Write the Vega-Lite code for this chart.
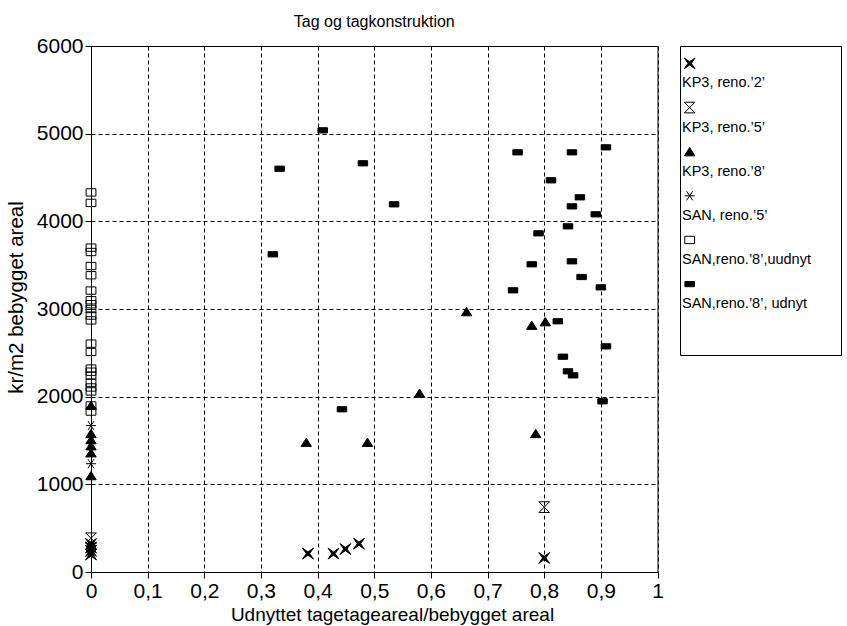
{
  "$schema": "https://vega.github.io/schema/vega-lite/v6.json",
  "autosize": {"type": "pad"},
  "padding": {"left": 5, "top": 13, "right": 0, "bottom": 0},
  "background": "white",
  "bounds": "flush",
  "spacing": 22,
  "config": {
    "font": "Liberation Sans",
    "view": {"stroke": "black", "strokeWidth": 1},
    "axis": {
      "domainColor": "black", "tickColor": "black", "gridColor": "black", "gridOpacity": 1,
      "gridDash": [4, 3], "labelColor": "black", "titleColor": "black",
      "labelFont": "Liberation Sans", "titleFont": "Liberation Sans",
      "labelFontSize": 21, "titleFontSize": 19, "titleFontWeight": "normal",
      "tickSize": 6, "labelPadding": 2
    },
    "text": {"font": "Liberation Sans"}
  },
  "hconcat": [
    {
      "width": 566.5,
      "height": 526,
      "title": {"text": "Tag og tagkonstruktion", "fontSize": 16, "fontWeight": "normal", "offset": 5, "font": "Liberation Sans", "color": "black"},
      "data": {"values": [
        {"series": "KP3, reno.’2’", "x": 0, "y": 320},
        {"series": "KP3, reno.’2’", "x": 0, "y": 280},
        {"series": "KP3, reno.’2’", "x": 0, "y": 240},
        {"series": "KP3, reno.’2’", "x": 0, "y": 200},
        {"series": "KP3, reno.’2’", "x": 0.383, "y": 210},
        {"series": "KP3, reno.’2’", "x": 0.428, "y": 210},
        {"series": "KP3, reno.’2’", "x": 0.449, "y": 262},
        {"series": "KP3, reno.’2’", "x": 0.473, "y": 323},
        {"series": "KP3, reno.’2’", "x": 0.8, "y": 160},
        {"series": "KP3, reno.’5’", "x": 0, "y": 385},
        {"series": "KP3, reno.’5’", "x": 0.8, "y": 740},
        {"series": "KP3, reno.’8’", "x": 0, "y": 1900},
        {"series": "KP3, reno.’8’", "x": 0, "y": 1580},
        {"series": "KP3, reno.’8’", "x": 0, "y": 1510},
        {"series": "KP3, reno.’8’", "x": 0, "y": 1440},
        {"series": "KP3, reno.’8’", "x": 0, "y": 1360},
        {"series": "KP3, reno.’8’", "x": 0, "y": 1100},
        {"series": "KP3, reno.’8’", "x": 0.38, "y": 1480},
        {"series": "KP3, reno.’8’", "x": 0.488, "y": 1480},
        {"series": "KP3, reno.’8’", "x": 0.58, "y": 2040},
        {"series": "KP3, reno.’8’", "x": 0.663, "y": 2970},
        {"series": "KP3, reno.’8’", "x": 0.778, "y": 2815},
        {"series": "KP3, reno.’8’", "x": 0.802, "y": 2855},
        {"series": "KP3, reno.’8’", "x": 0.785, "y": 1580},
        {"series": "SAN, reno.’5’", "x": 0, "y": 1670},
        {"series": "SAN, reno.’5’", "x": 0, "y": 1235},
        {"series": "SAN, reno.’5’", "x": 0, "y": 300},
        {"series": "SAN,reno.’8’,uudnyt", "x": 0, "y": 4330},
        {"series": "SAN,reno.’8’,uudnyt", "x": 0, "y": 4210},
        {"series": "SAN,reno.’8’,uudnyt", "x": 0, "y": 3700},
        {"series": "SAN,reno.’8’,uudnyt", "x": 0, "y": 3650},
        {"series": "SAN,reno.’8’,uudnyt", "x": 0, "y": 3490},
        {"series": "SAN,reno.’8’,uudnyt", "x": 0, "y": 3385},
        {"series": "SAN,reno.’8’,uudnyt", "x": 0, "y": 3210},
        {"series": "SAN,reno.’8’,uudnyt", "x": 0, "y": 3100},
        {"series": "SAN,reno.’8’,uudnyt", "x": 0, "y": 3055},
        {"series": "SAN,reno.’8’,uudnyt", "x": 0, "y": 3000},
        {"series": "SAN,reno.’8’,uudnyt", "x": 0, "y": 2925},
        {"series": "SAN,reno.’8’,uudnyt", "x": 0, "y": 2870},
        {"series": "SAN,reno.’8’,uudnyt", "x": 0, "y": 2605},
        {"series": "SAN,reno.’8’,uudnyt", "x": 0, "y": 2510},
        {"series": "SAN,reno.’8’,uudnyt", "x": 0, "y": 2320},
        {"series": "SAN,reno.’8’,uudnyt", "x": 0, "y": 2285},
        {"series": "SAN,reno.’8’,uudnyt", "x": 0, "y": 2240},
        {"series": "SAN,reno.’8’,uudnyt", "x": 0, "y": 2160},
        {"series": "SAN,reno.’8’,uudnyt", "x": 0, "y": 2105},
        {"series": "SAN,reno.’8’,uudnyt", "x": 0, "y": 2060},
        {"series": "SAN,reno.’8’,uudnyt", "x": 0, "y": 1900},
        {"series": "SAN,reno.’8’,uudnyt", "x": 0, "y": 1830},
        {"series": "SAN,reno.’8’, udnyt", "x": 0.321, "y": 3624},
        {"series": "SAN,reno.’8’, udnyt", "x": 0.333, "y": 4600},
        {"series": "SAN,reno.’8’, udnyt", "x": 0.409, "y": 5038},
        {"series": "SAN,reno.’8’, udnyt", "x": 0.48, "y": 4662},
        {"series": "SAN,reno.’8’, udnyt", "x": 0.535, "y": 4194},
        {"series": "SAN,reno.’8’, udnyt", "x": 0.443, "y": 1856},
        {"series": "SAN,reno.’8’, udnyt", "x": 0.753, "y": 4787},
        {"series": "SAN,reno.’8’, udnyt", "x": 0.812, "y": 4468},
        {"series": "SAN,reno.’8’, udnyt", "x": 0.79, "y": 3863},
        {"series": "SAN,reno.’8’, udnyt", "x": 0.778, "y": 3510},
        {"series": "SAN,reno.’8’, udnyt", "x": 0.745, "y": 3213},
        {"series": "SAN,reno.’8’, udnyt", "x": 0.909, "y": 4844},
        {"series": "SAN,reno.’8’, udnyt", "x": 0.849, "y": 4787},
        {"series": "SAN,reno.’8’, udnyt", "x": 0.863, "y": 4274},
        {"series": "SAN,reno.’8’, udnyt", "x": 0.849, "y": 4171},
        {"series": "SAN,reno.’8’, udnyt", "x": 0.891, "y": 4080},
        {"series": "SAN,reno.’8’, udnyt", "x": 0.842, "y": 3943},
        {"series": "SAN,reno.’8’, udnyt", "x": 0.849, "y": 3544},
        {"series": "SAN,reno.’8’, udnyt", "x": 0.866, "y": 3365},
        {"series": "SAN,reno.’8’, udnyt", "x": 0.9, "y": 3247},
        {"series": "SAN,reno.’8’, udnyt", "x": 0.824, "y": 2860},
        {"series": "SAN,reno.’8’, udnyt", "x": 0.909, "y": 2574},
        {"series": "SAN,reno.’8’, udnyt", "x": 0.833, "y": 2456},
        {"series": "SAN,reno.’8’, udnyt", "x": 0.842, "y": 2289},
        {"series": "SAN,reno.’8’, udnyt", "x": 0.851, "y": 2243},
        {"series": "SAN,reno.’8’, udnyt", "x": 0.903, "y": 1947}
      ]},
      "mark": {"type": "point", "opacity": 1, "strokeWidth": 1, "stroke": "black"},
      "encoding": {
        "x": {"field": "x", "type": "quantitative",
          "scale": {"domain": [0, 1], "nice": false, "zero": false},
          "axis": {"title": "Udnyttet tagetageareal/bebygget areal", "values": [0, 0.1, 0.2, 0.3, 0.4, 0.5, 0.6, 0.7, 0.8, 0.9, 1],
            "labelExpr": "replace(format(datum.value, '.1~f'), '.', ',')", "grid": true, "titlePadding": 4, "titleX": 301, "labelFlush": false}},
        "y": {"field": "y", "type": "quantitative",
          "scale": {"domain": [0, 6000], "nice": false},
          "axis": {"title": "kr/m2 bebygget areal", "values": [0, 1000, 2000, 3000, 4000, 5000, 6000], "format": "d", "grid": true, "titlePadding": 10, "titleFontSize": 20.5, "titleY": 251, "labelFlush": false}},
        "shape": {"field": "series", "type": "nominal", "legend": null,
          "scale": {"domain": ["KP3, reno.’2’", "KP3, reno.’5’", "KP3, reno.’8’", "SAN, reno.’5’", "SAN,reno.’8’,uudnyt", "SAN,reno.’8’, udnyt"],
            "range": ["M-1,-1L0,-0.3L1,-1L0.3,0L1,1L0,0.3L-1,1L-0.3,0Z", "M-1,-1H1L-1,1H1Z", "M0,-0.8L1,0.8H-1Z", "M-1,0H1M-0.6,-0.9L0.6,0.9M-0.6,0.9L0.6,-0.9", "M-1,-0.75H1V0.75H-1Z", "M-1,-0.55H1V0.55H-1Z"]}},
        "fill": {"field": "series", "type": "nominal", "legend": null,
          "scale": {"domain": ["KP3, reno.’2’", "KP3, reno.’5’", "KP3, reno.’8’", "SAN, reno.’5’", "SAN,reno.’8’,uudnyt", "SAN,reno.’8’, udnyt"],
            "range": ["black", "transparent", "black", "transparent", "transparent", "black"]}},
        "size": {"field": "series", "type": "nominal", "legend": null,
          "scale": {"domain": ["KP3, reno.’2’", "KP3, reno.’5’", "KP3, reno.’8’", "SAN, reno.’5’", "SAN,reno.’8’,uudnyt", "SAN,reno.’8’, udnyt"],
            "range": [120, 90, 100, 100, 110, 144]}}
      }
    },
    {
      "width": 161,
      "height": 309,
      "data": {"values": [
        {"series": "KP3, reno.’2’"},
        {"series": "KP3, reno.’5’"},
        {"series": "KP3, reno.’8’"},
        {"series": "SAN, reno.’5’"},
        {"series": "SAN,reno.’8’,uudnyt"},
        {"series": "SAN,reno.’8’, udnyt"}
      ]},
      "encoding": {
        "y": {"field": "series", "type": "nominal", "axis": null,
          "scale": {"type": "point", "domain": ["KP3, reno.’2’", "KP3, reno.’5’", "KP3, reno.’8’", "SAN, reno.’5’", "SAN,reno.’8’,uudnyt", "SAN,reno.’8’, udnyt"], "padding": 1.0517, "align": 0.197}}
      },
      "layer": [
        {
          "mark": {"type": "point", "opacity": 1, "strokeWidth": 1, "stroke": "black"},
          "encoding": {
            "x": {"datum": 0.06, "type": "quantitative", "scale": {"domain": [0, 1], "nice": false, "zero": false}, "axis": null},
            "shape": {"field": "series", "type": "nominal", "legend": null,
              "scale": {"domain": ["KP3, reno.’2’", "KP3, reno.’5’", "KP3, reno.’8’", "SAN, reno.’5’", "SAN,reno.’8’,uudnyt", "SAN,reno.’8’, udnyt"],
                "range": ["M-1,-1L0,-0.3L1,-1L0.3,0L1,1L0,0.3L-1,1L-0.3,0Z", "M-1,-1H1L-1,1H1Z", "M0,-0.8L1,0.8H-1Z", "M-1,0H1M-0.6,-0.9L0.6,0.9M-0.6,0.9L0.6,-0.9", "M-1,-0.75H1V0.75H-1Z", "M-1,-0.55H1V0.55H-1Z"]}},
            "fill": {"field": "series", "type": "nominal", "legend": null,
              "scale": {"domain": ["KP3, reno.’2’", "KP3, reno.’5’", "KP3, reno.’8’", "SAN, reno.’5’", "SAN,reno.’8’,uudnyt", "SAN,reno.’8’, udnyt"],
                "range": ["black", "transparent", "black", "transparent", "transparent", "black"]}},
            "size": {"field": "series", "type": "nominal", "legend": null,
              "scale": {"domain": ["KP3, reno.’2’", "KP3, reno.’5’", "KP3, reno.’8’", "SAN, reno.’5’", "SAN,reno.’8’,uudnyt", "SAN,reno.’8’, udnyt"],
                "range": [110, 60, 260, 70, 100, 130]}}
          }
        },
        {
          "mark": {"type": "text", "align": "left", "baseline": "middle", "dy": 20, "dx": 2, "fontSize": 14.5, "color": "black"},
          "encoding": {
            "x": {"datum": 0, "type": "quantitative"},
            "text": {"field": "series"}
          }
        }
      ]
    }
  ]
}
